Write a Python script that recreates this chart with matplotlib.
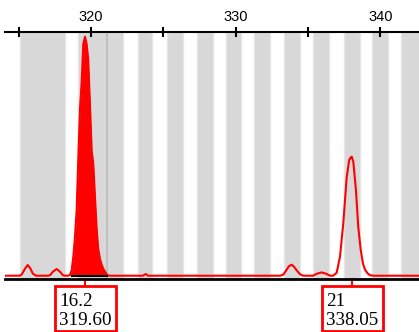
import matplotlib
matplotlib.use("Agg")
import matplotlib.pyplot as plt
from matplotlib.patches import Rectangle
from matplotlib.ticker import MultipleLocator, NullFormatter
from matplotlib.transforms import blended_transform_factory

# allele bins (bp)
bin_starts = [315.09, 319.10, 323.25, 325.25, 327.33, 329.33, 331.26, 333.32, 335.34, 337.48, 339.42, 341.42]
bin_ends = [318.20, 322.21, 324.22, 326.36, 328.41, 330.35, 332.37, 334.44, 336.45, 338.59, 340.53, 342.90]
bin_divider = 321.10

# electropherogram trace (size bp, signal)
trace_size = [314.06, 315.09, 315.23, 315.44, 315.63, 315.78, 315.99, 316.20,
              317.03, 317.17, 317.37, 317.63, 317.86, 318.06, 318.20,
              318.41, 318.55, 318.67, 318.78, 318.89, 319.01, 319.12, 319.24, 319.36,
              319.47, 319.59, 319.70, 319.81, 319.93, 320.05, 320.16, 320.28, 320.39,
              320.50, 320.62, 320.74, 320.85, 320.97, 321.11, 321.24,
              323.59, 323.78, 323.94,
              333.06, 333.29, 333.48, 333.68, 333.87, 334.03, 334.24, 334.44, 334.67,
              335.34, 335.62, 335.94, 336.24, 336.52,
              336.73, 336.98, 337.21, 337.44, 337.67, 337.85, 337.94, 338.02, 338.13,
              338.31, 338.47, 338.64, 338.80, 338.94, 339.11, 339.28, 339.49, 342.67]
trace_rfu = [0, 0, 1.5, 7, 10.7, 8, 2, 0,
             0, 0.5, 4, 6.7, 4, 0.5, 0,
             0, 0.7, 5.7, 18.7, 37.7, 65, 115, 166, 194,
             231.7, 239, 231.7, 216.7, 171.7, 125, 112, 78, 48,
             27, 17, 11, 7, 4, 1, 0,
             0, 1.7, 0,
             0, 1, 5, 9.5, 11, 9, 5, 1.5, 0,
             0, 2, 3.3, 2, 0,
             0, 3, 19, 52.7, 98, 116, 118, 119, 114,
             86, 49, 26, 12, 6, 2.5, 0.5, 0, 0]

# called peaks
called_size = [319.60, 338.05]
called_allele = ["16.2", "21"]
fill_range = (318.50, 321.15)

fig = plt.figure(figsize=(4.19, 3.32), dpi=100)
ax = fig.add_axes([5 / 419, 52.7 / 332, 414 / 419, 247.6 / 332])
ax.set_xlim(314.06, 342.67)
ax.set_ylim(-3.6, 244)

for s, e in zip(bin_starts, bin_ends):
    ax.axvspan(s, e, facecolor='#d8d8d8', edgecolor='#e6e6e6', lw=1, zorder=0)
ax.axvline(bin_divider, color='#bcbcbc', lw=1.2, zorder=1)

ax.plot(trace_size, trace_rfu, color='red', lw=1.5, zorder=3)
fx = [x for x in trace_size if fill_range[0] <= x <= fill_range[1]]
fy = [y for x, y in zip(trace_size, trace_rfu) if fill_range[0] <= x <= fill_range[1]]
ax.fill_between(fx, 0, fy, color='red', lw=0, zorder=3)
ax.plot([fx[1], fx[-1]], [0, 0], color='black', lw=1.5, zorder=4)

ax.spines['left'].set_visible(False)
ax.spines['right'].set_visible(False)
ax.spines['top'].set_linewidth(1.5)
ax.spines['bottom'].set_linewidth(2)
ax.set_yticks([])
ax.xaxis.tick_top()
ax.xaxis.set_major_locator(MultipleLocator(10))
ax.xaxis.set_minor_locator(MultipleLocator(5))
ax.xaxis.set_minor_formatter(NullFormatter())
ax.tick_params(axis='x', which='both', direction='inout', length=7, width=1.5,
               pad=2, labelsize=10.5, color='black')
for lbl in ax.get_xticklabels():
    lbl.set_family('Liberation Sans')

# allele call boxes below the axis
tr = blended_transform_factory(ax.transData, fig.transFigure)
box_w = 61 / 14.47
for size, allele in zip(called_size, called_allele):
    ax.plot([size, size], [(332 - 279.3) / 332, (332 - 285.7) / 332],
            color='red', lw=1.5, transform=tr, clip_on=False)
    ax.add_patch(Rectangle((size - box_w / 2, 1.3 / 332), box_w, 44.4 / 332,
                           transform=tr, fill=False, edgecolor='red', lw=2, clip_on=False))
    ax.text(size, (332 - 311) / 332, f"{allele}\n{size:.2f}", transform=tr,
            ha='center', va='center', multialignment='left', linespacing=1.1,
            family='Liberation Serif', fontsize=13.7, color='black')

fig.savefig('out.png', dpi=100)
